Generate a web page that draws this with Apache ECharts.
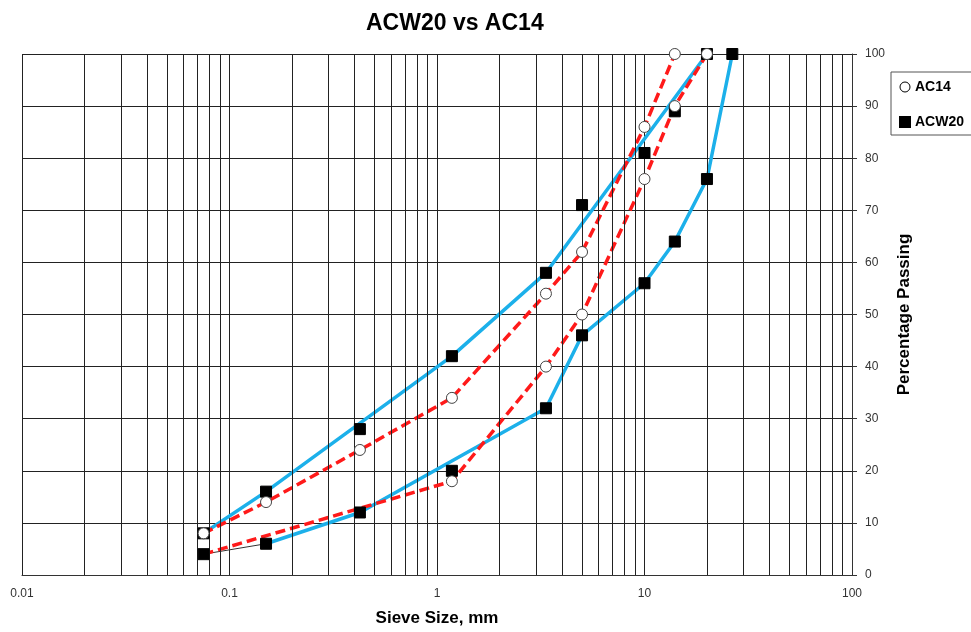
<!DOCTYPE html>
<html>
<head>
<meta charset="utf-8">
<title>ACW20 vs AC14</title>
<script src="https://cdn.jsdelivr.net/npm/echarts@6/dist/echarts.min.js"></script>
<style>
  html, body { margin: 0; padding: 0; background: #fff; }
  #chart { width: 971px; height: 632px; }
</style>
</head>
<body>
<div id="chart"></div>
<script>
// sieve sizes (mm) and % passing
const ac14Upper = [[0.075, 8], [0.15, 14], [0.425, 24], [1.18, 34], [3.35, 54], [5, 62], [10, 86], [14, 100]]
const ac14Lower = [[0.075, 4], [1.18, 18], [3.35, 40], [5, 50], [10, 76], [14, 90], [20, 100]]
const acw20Upper = [[0.075, 8], [0.15, 16], [0.425, 28], [1.18, 42], [3.35, 58], [5, 71], [10, 81], [14, 89], [20, 100]]
const acw20Lower = [[0.075, 4], [0.15, 6], [0.425, 12], [1.18, 20], [3.35, 32], [5, 46], [10, 56], [14, 64], [20, 76], [26.5, 100]]
// blue envelope lines
const blueUpper = [[0.075, 8], [0.15, 16], [1.18, 42], [3.35, 58], [20, 100]]
const blueLower = [[0.15, 6], [0.425, 12], [3.35, 32], [5, 46], [10, 56], [14, 64], [20, 76], [26.5, 100]]
const yTicks = [0, 10, 20, 30, 40, 50, 60, 70, 80, 90, 100]
const decades = [0.01, 0.1, 1, 10]
const minorSteps = [2, 3, 4, 5, 6, 7, 8, 9]

const minorGrid = []
decades.forEach(d => minorSteps.forEach(m => minorGrid.push({ xAxis: +(d * m).toPrecision(3) })))

const chart = echarts.init(document.getElementById('chart'))
const font = "'Liberation Sans', Arial, sans-serif"

chart.setOption({
  animation: false,
  title: {
    text: 'ACW20 vs AC14', left: 361, top: 7,
    textStyle: { fontFamily: font, fontSize: 23, fontWeight: 'bold', color: '#000' }
  },
  legend: {
    left: 891, top: 72, orient: 'vertical',
    padding: [8, 20, 6, 8], itemGap: 21, itemWidth: 10, itemHeight: 10,
    borderColor: '#555', borderWidth: 1,
    textStyle: { fontFamily: font, fontSize: 14, fontWeight: 'bold', color: '#000' },
    data: [
      { name: 'AC14', icon: 'circle', itemStyle: { color: '#fff', borderColor: '#000', borderWidth: 1 } },
      { name: 'ACW20', icon: 'rect', itemStyle: { color: '#000', opacity: 1 } }
    ]
  },
  grid: { left: 22, right: 119, top: 54, bottom: 57 },
  xAxis: {
    type: 'log', logBase: 10, min: 0.01, max: 100,
    name: 'Sieve Size, mm', nameLocation: 'middle', nameGap: 35,
    nameTextStyle: { fontFamily: font, fontSize: 17, fontWeight: 'bold', color: '#000' },
    axisLine: { lineStyle: { color: '#333', width: 1 } },
    axisTick: { show: false },
    axisLabel: { fontFamily: font, fontSize: 12, color: '#333', margin: 13, formatter: v => String(v) },
    splitLine: { show: true, lineStyle: { color: '#222', width: 1 } }
  },
  yAxis: {
    type: 'value', position: 'right', min: 0, max: 100, interval: 10,
    name: 'Percentage Passing', nameLocation: 'middle', nameGap: 37, nameRotate: 90,
    nameTextStyle: { fontFamily: font, fontSize: 17, fontWeight: 'bold', color: '#000' },
    axisLine: { show: true, lineStyle: { color: '#333', width: 1 } },
    axisTick: { show: true, inside: false, length: 5, lineStyle: { color: '#333' } },
    axisLabel: { fontFamily: font, fontSize: 12, color: '#333', margin: 13, customValues: yTicks },
    splitLine: { show: true, lineStyle: { color: '#222', width: 1 } }
  },
  series: [
    {
      // thin connector only visible before the blue line starts
      type: 'line', data: acw20Lower.slice(0, 2), z: 1, symbol: 'none', silent: true,
      lineStyle: { color: '#333', width: 1 },
      markLine: {
        silent: true, symbol: 'none', label: { show: false },
        lineStyle: { color: '#222', width: 1, type: 'solid' },
        data: minorGrid
      }
    },
    { type: 'line', data: blueUpper, z: 3, symbol: 'none', lineStyle: { color: '#1CB0EA', width: 3.5 } },
    { type: 'line', data: blueLower, z: 3, symbol: 'none', lineStyle: { color: '#1CB0EA', width: 3.5 } },
    { type: 'line', data: ac14Upper, z: 4, symbol: 'none', lineStyle: { color: '#FF1A1A', width: 3.5, type: [10, 5] } },
    { type: 'line', data: ac14Lower, z: 4, symbol: 'none', lineStyle: { color: '#FF1A1A', width: 3.5, type: [10, 5] } },
    {
      name: 'ACW20', type: 'scatter', z: 5, symbol: 'rect', symbolSize: 11,
      data: acw20Upper.concat(acw20Lower),
      itemStyle: { color: '#000', borderColor: '#000', borderWidth: 1, opacity: 1 }
    },
    {
      name: 'AC14', type: 'scatter', z: 6, symbol: 'circle', symbolSize: 11,
      data: ac14Upper.concat(ac14Lower.slice(1)),
      itemStyle: { color: '#fff', borderColor: '#444', borderWidth: 1, opacity: 1 }
    }
  ]
})
</script>
</body>
</html>
